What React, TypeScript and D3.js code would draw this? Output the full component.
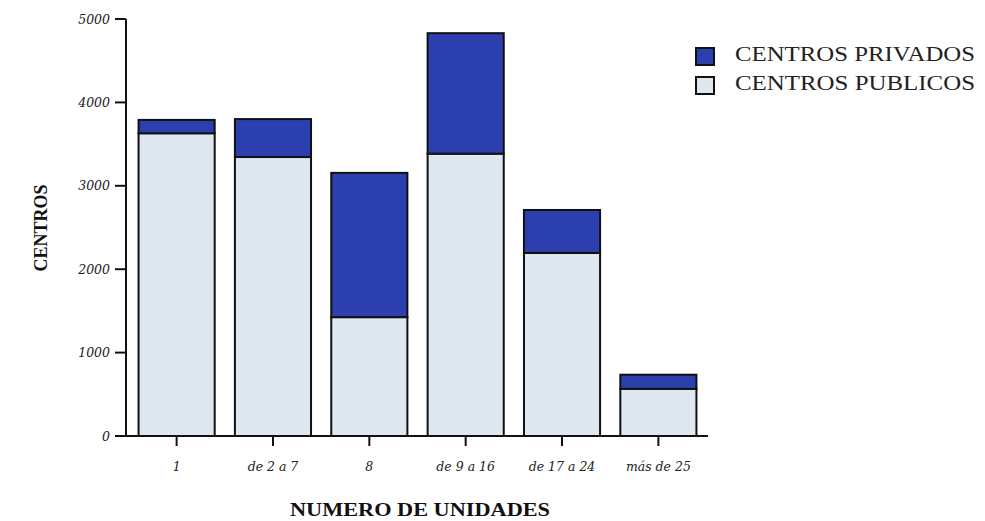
import React from "react";
import * as d3 from "d3";

const categories = ["1", "de 2 a 7", "8", "de 9 a 16", "de 17 a 24", "más  de 25"];
const publicos = [3630, 3345, 1425, 3385, 2195, 565];
const privados = [160, 455, 1730, 1445, 515, 170];
const yTicks = [0, 1000, 2000, 3000, 4000, 5000];
const seriesNames = ["CENTROS PRIVADOS", "CENTROS PUBLICOS"];

const W = 985, H = 521;
const DARK = "#2b3fae";
const LIGHT = "#dfe7f1";

export default function App() {
  const y = d3.scaleLinear().domain([0, 5000]).range([436, 19]);
  const x = d3.scaleBand().domain(categories).range([127, 708]).paddingInner(0.21).paddingOuter(0.12);
  const axisX = 126;
  const serif = "'DejaVu Serif', 'Liberation Serif', serif";
  const lserif = "'Liberation Serif', serif";
  return (
    <svg width={W} height={H} style={{ position: "absolute", left: 0, top: 0, background: "#fff" }}>
      {categories.map((c, i) => {
        const x0 = x(c)!;
        const bw = x.bandwidth();
        const yPub = y(publicos[i]);
        const yTot = y(publicos[i] + privados[i]);
        return (
          <g key={c}>
            <rect x={x0} y={yPub} width={bw} height={y(0) - yPub} fill={LIGHT} stroke="#111" strokeWidth={2} />
            <rect x={x0} y={yTot} width={bw} height={yPub - yTot} fill={DARK} stroke="#111" strokeWidth={2} />
            <line x1={x0 + bw / 2} x2={x0 + bw / 2} y1={436} y2={446} stroke="#111" strokeWidth={2} />
            <text x={x0 + bw / 2} y={471} textAnchor="middle" fontFamily={serif} fontStyle="italic" fontSize={12.5} fill="#222">{c}</text>
          </g>
        );
      })}
      <line x1={axisX} x2={axisX} y1={19} y2={437} stroke="#111" strokeWidth={2} />
      <line x1={115} x2={708} y1={436} y2={436} stroke="#111" strokeWidth={2} />
      {yTicks.map((t) => (
        <g key={t}>
          <line x1={115} x2={axisX} y1={y(t)} y2={y(t)} stroke="#111" strokeWidth={2} />
          <text x={110} y={y(t) + 4.5} textAnchor="end" fontFamily={serif} fontStyle="italic" fontSize={12.5} fill="#222">{t}</text>
        </g>
      ))}
      <text transform="translate(47,228) rotate(-90)" textAnchor="middle" fontFamily={lserif} fontWeight="bold" fontSize={18} fill="#111">CENTROS</text>
      <text x={420} y={516} textAnchor="middle" fontFamily={lserif} fontWeight="bold" fontSize={19} textLength={260} lengthAdjust="spacingAndGlyphs" fill="#111">NUMERO DE UNIDADES</text>
      {seriesNames.map((s, i) => (
        <g key={s}>
          <rect x={696} y={48 + i * 29} width={18} height={17} fill={i === 0 ? DARK : LIGHT} stroke="#111" strokeWidth={2} />
          <text x={735} y={61 + i * 29} fontFamily={lserif} fontSize={22} textLength={240} lengthAdjust="spacingAndGlyphs" fill="#222">{s}</text>
        </g>
      ))}
    </svg>
  );
}
